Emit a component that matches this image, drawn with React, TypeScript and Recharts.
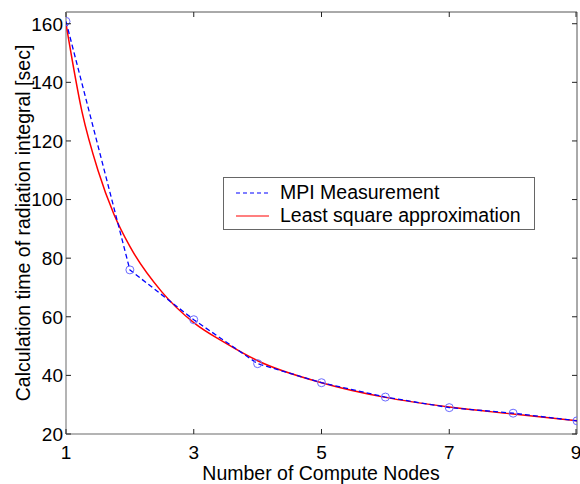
import { LineChart, Line, XAxis, YAxis, ReferenceLine } from 'recharts';

const FONT = '"Liberation Sans", Arial, sans-serif';

// measured run times (MPI)
const nodes = [1, 2, 3, 4, 5, 6, 7, 8, 9];
const mpiTimes = [160.8, 76, 59, 44, 37.5, 32.6, 29, 27.1, 24.5];

// least square fit
const fitNodes = [1, 1.25, 1.5, 1.75, 2, 2.5, 3, 3.5, 4, 5, 6, 7, 8, 9];
const fitTimes = [160, 130, 110, 95, 84, 68.5, 58, 51, 45, 37.5, 32.5, 29.2, 26.8, 24.5];

const xTicks = [1, 3, 5, 7, 9];
const yTicks = [20, 40, 60, 80, 100, 120, 140, 160];
const xDomain = [1, 9];
const yDomain = [20, 164];

const mpiData = nodes.map((n, i) => ({ n, t: mpiTimes[i] }));
const fitData = fitNodes.map((n, i) => ({ n, t: fitTimes[i] }));

const PLOT_LEFT = 66;
const PLOT_RIGHT = 577;
const PLOT_TOP = 12;
const PLOT_BOTTOM = 434;
const TICK = 5;

const LeftTick = ({ y, payload }: any) => (
  <g>
    <line x1={PLOT_LEFT} x2={PLOT_LEFT + TICK} y1={y} y2={y} stroke="#222" />
    <line x1={PLOT_RIGHT - TICK} x2={PLOT_RIGHT} y1={y} y2={y} stroke="#222" />
    <text x={PLOT_LEFT - 3} y={y} dy="0.36em" textAnchor="end" fontSize={19} fill="#000" fontFamily={FONT}>
      {payload.value}
    </text>
  </g>
);

const BottomTick = ({ x, payload }: any) => (
  <g>
    <line x1={x} x2={x} y1={PLOT_BOTTOM} y2={PLOT_BOTTOM - TICK} stroke="#222" />
    <line x1={x} x2={x} y1={PLOT_TOP} y2={PLOT_TOP + TICK} stroke="#222" />
    <text x={x} y={PLOT_BOTTOM + 25} textAnchor="middle" fontSize={19} fill="#000" fontFamily={FONT}>
      {payload.value}
    </text>
  </g>
);

const YTitle = () => (
  <text
    x={23}
    y={223}
    transform="rotate(-90, 23, 223)"
    textAnchor="middle"
    dominantBaseline="central"
    fontSize={19.5}
    fill="#000"
    fontFamily={FONT}
  >
    Calculation time of radiation integral [sec]
  </text>
);

const XTitle = () => (
  <text x={321} y={480} textAnchor="middle" fontSize={19.5} fill="#000" fontFamily={FONT}>
    Number of Compute Nodes
  </text>
);

const LegendBox = () => (
  <div
    style={{
      position: 'absolute',
      left: 223,
      top: 177,
      width: 312,
      height: 53,
      border: '1px solid #666',
      background: '#fff',
      boxSizing: 'border-box',
      fontFamily: FONT,
      fontSize: 19.5,
    }}
  >
    <svg width={40} height={50} style={{ position: 'absolute', left: 9, top: 0 }}>
      <line x1={3} x2={36} y1={15} y2={15} stroke="#0000ff" strokeWidth={1.2} strokeDasharray="4 3" />
      <line x1={3} x2={36} y1={38} y2={38} stroke="#ff0000" strokeWidth={1.2} />
    </svg>
    <div style={{ position: 'absolute', left: 56, top: 3, lineHeight: '22px', whiteSpace: 'nowrap' }}>MPI Measurement</div>
    <div style={{ position: 'absolute', left: 56, top: 26, lineHeight: '22px', whiteSpace: 'nowrap' }}>Least square approximation</div>
  </div>
);

export default function App() {
  return (
    <div style={{ position: 'absolute', left: 0, top: 0, width: 580, height: 484, background: '#fff' }}>
      <LineChart
        width={580}
        height={484}
        margin={{ top: PLOT_TOP, right: 580 - PLOT_RIGHT, left: 0, bottom: 0 }}
      >
        <XAxis
          dataKey="n"
          type="number"
          domain={xDomain}
          ticks={xTicks}
          height={484 - PLOT_BOTTOM}
          axisLine={false}
          tickLine={false}
          tick={<BottomTick />}
          label={<XTitle />}
          allowDataOverflow
        />
        <YAxis
          type="number"
          domain={yDomain}
          ticks={yTicks}
          width={PLOT_LEFT}
          axisLine={false}
          tickLine={false}
          tick={<LeftTick />}
          label={<YTitle />}
          allowDataOverflow
        />
        <ReferenceLine y={yDomain[1]} stroke="#555" strokeWidth={1} ifOverflow="visible" />
        <ReferenceLine x={xDomain[1]} stroke="#555" strokeWidth={1} ifOverflow="visible" />
        <ReferenceLine x={xDomain[0]} stroke="#b4b4b4" strokeWidth={2} ifOverflow="visible" />
        <ReferenceLine y={yDomain[0]} stroke="#b4b4b4" strokeWidth={2} ifOverflow="visible" />
        <Line
          data={fitData}
          dataKey="t"
          type="monotone"
          stroke="#ff0000"
          strokeWidth={1.5}
          dot={false}
          isAnimationActive={false}
        />
        <Line
          data={mpiData}
          dataKey="t"
          type="linear"
          stroke="#0000ff"
          strokeWidth={1.3}
          strokeDasharray="5 3"
          dot={{ r: 4, stroke: '#6a6aff', strokeWidth: 1, fill: 'none', strokeDasharray: '' }}
          isAnimationActive={false}
        />
      </LineChart>
      <LegendBox />
    </div>
  );
}
